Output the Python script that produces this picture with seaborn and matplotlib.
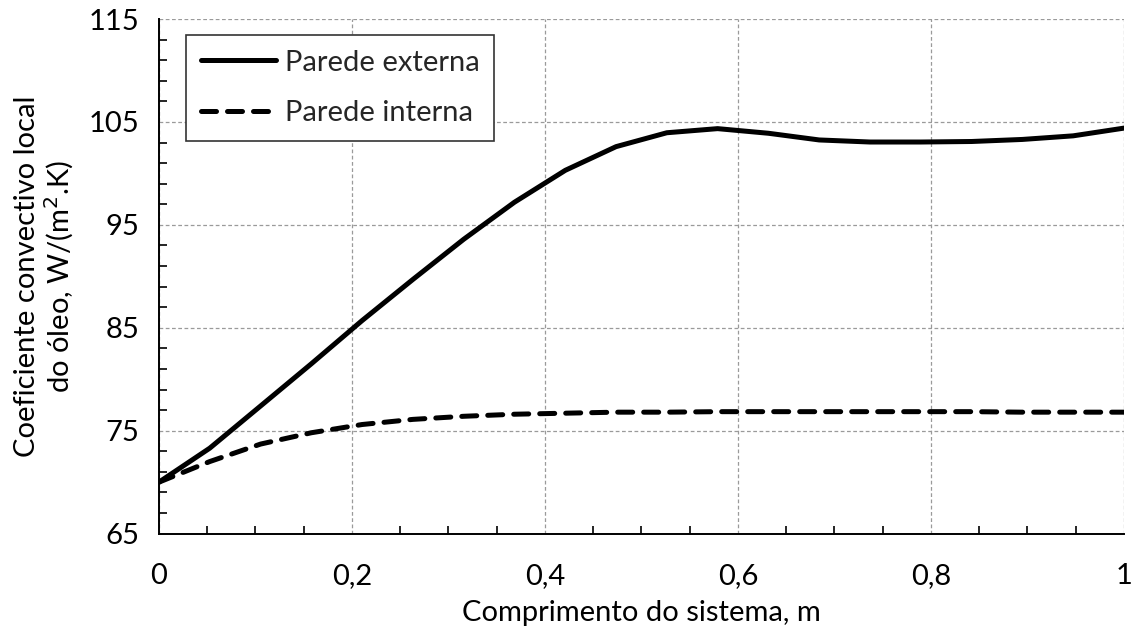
import numpy as np
import pandas as pd
import seaborn as sns
import matplotlib
matplotlib.use("Agg")
import matplotlib.pyplot as plt
from matplotlib.ticker import FixedLocator, FuncFormatter

# ---- data ----
x_pos = [0.0, 0.0526, 0.1053, 0.1579, 0.2105, 0.2632, 0.3158, 0.3684, 0.4211, 0.4737,
         0.5263, 0.5789, 0.6316, 0.6842, 0.7368, 0.7895, 0.8421, 0.8947, 0.9474, 1.0]
parede_externa = [70.0, 73.3, 77.4, 81.5, 85.7, 89.7, 93.6, 97.2, 100.3, 102.6,
                  103.95, 104.35, 103.9, 103.25, 103.05, 103.05, 103.1, 103.3, 103.65, 104.4]
parede_interna = [70.0, 72.0, 73.7, 74.8, 75.6, 76.1, 76.4, 76.6, 76.7, 76.8,
                  76.8, 76.85, 76.85, 76.85, 76.85, 76.85, 76.85, 76.8, 76.8, 76.8]
x_ticks = [0, 0.2, 0.4, 0.6, 0.8, 1.0]
y_ticks = [65, 75, 85, 95, 105, 115]
labels = ["Parede externa", "Parede interna"]

sns.set_theme(style="white")
plt.rcParams['font.family'] = ['Lato', 'DejaVu Sans']
FS = 21

fig = plt.figure(figsize=(11.33, 6.28), dpi=100)
ax = fig.add_axes([0.1403, 0.1503, 0.8517, 0.8194])

sns.lineplot(x=x_pos, y=parede_externa, ax=ax, color='black', lw=3.6,
             label=labels[0], solid_capstyle='round', solid_joinstyle='round')
sns.lineplot(x=x_pos, y=parede_interna, ax=ax, color='black', lw=3.6,
             label=labels[1], dashes=False)
ln = ax.get_lines()[-1]
ln.set_linestyle((0, (3.0, 2.2)))
ln.set_dash_capstyle('round')

ax.set_xlim(0, 1)
ax.set_ylim(65, 115)
ax.xaxis.set_major_locator(FixedLocator(x_ticks))
ax.yaxis.set_major_locator(FixedLocator(y_ticks))
ax.xaxis.set_minor_locator(FixedLocator(np.arange(0, 1.001, 0.05)))
ax.yaxis.set_minor_locator(FixedLocator(np.arange(65, 116, 2)))
fmt = FuncFormatter(lambda v, p: f"{v:g}".replace('.', ','))
ax.xaxis.set_major_formatter(fmt)

ax.grid(True, which='major', color='#9a9a9a', lw=0.9, linestyle=(0, (3, 2)))
ax.set_axisbelow(True)

for s in ['top', 'right']:
    ax.spines[s].set_visible(False)
for s in ['left', 'bottom']:
    ax.spines[s].set_color('black')
    ax.spines[s].set_linewidth(1.4)

ax.tick_params(axis='both', which='major', direction='out', length=7, width=1.2,
               color='black', labelsize=FS, labelcolor='black')
ax.tick_params(axis='y', which='major', pad=7)
ax.tick_params(axis='x', which='major', pad=14)
ax.tick_params(axis='both', which='minor', direction='in', length=6, width=1.2,
               color='black', left=True, bottom=True)

ax.set_xlabel("Comprimento do sistema, m", fontsize=FS, color='black', labelpad=8)
ax.set_ylabel("Coeficiente convectivo local\ndo óleo, W/(m$^2$.K)", fontsize=FS,
              color='black', labelpad=9, linespacing=1.1)

leg = ax.legend(loc='upper left', bbox_to_anchor=(0.028, 0.969), borderaxespad=0,
                fontsize=FS, frameon=True, fancybox=False, handlelength=2.6,
                handletextpad=0.3, labelspacing=0.85, borderpad=0.5)
leg.get_frame().set_edgecolor('#333333')
leg.get_frame().set_linewidth(1.2)
leg.get_frame().set_alpha(1)

fig.savefig("out.png", dpi=100)
